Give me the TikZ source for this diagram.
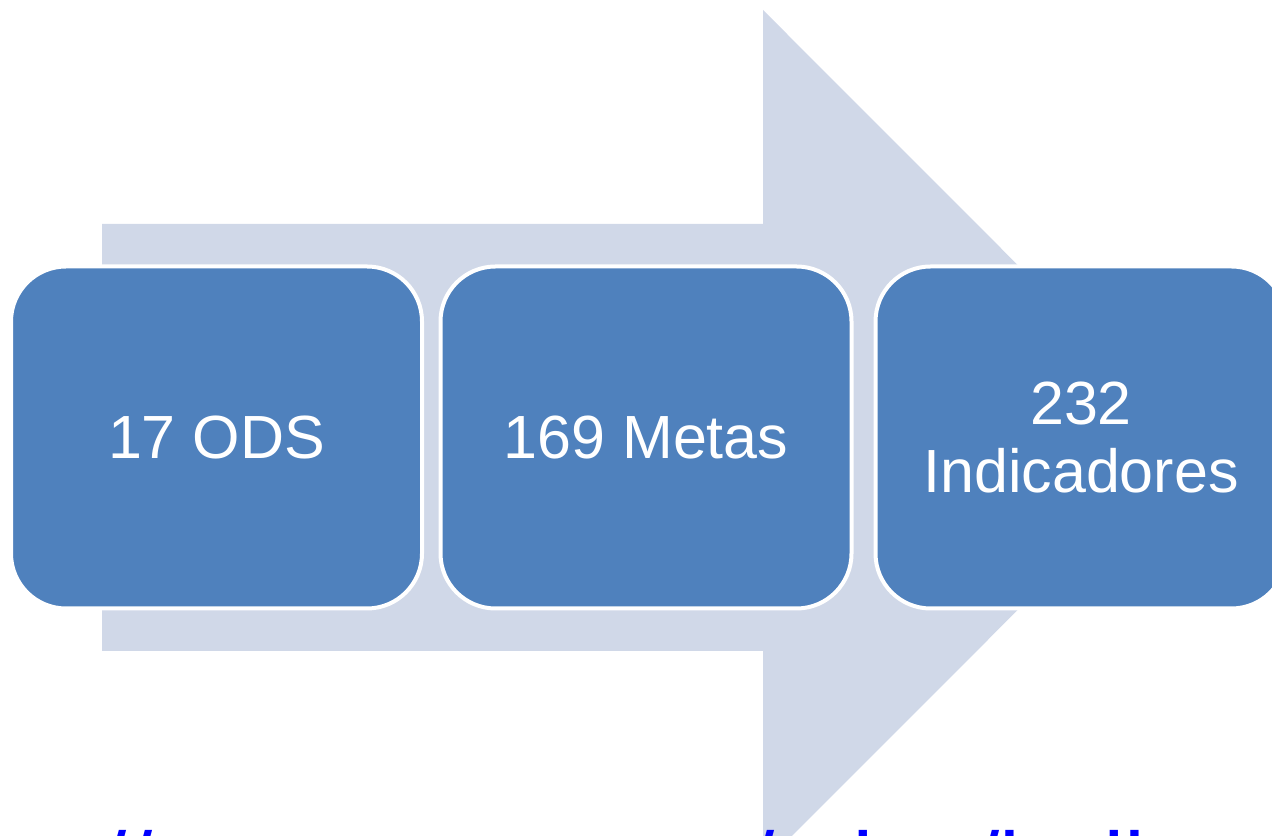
\documentclass[tikz,border=0pt]{standalone}
\usepackage{fontspec}
\setmainfont{Liberation Sans}
\usepackage{tikz}
\pgfdeclarelayer{edgelayer}
\pgfdeclarelayer{nodelayer}
\pgfsetlayers{edgelayer,nodelayer,main}
\definecolor{boxblue}{RGB}{79,129,189}
\definecolor{arrowgrey}{RGB}{208,216,232}
\definecolor{linkblue}{RGB}{0,0,255}
\tikzstyle{none}=[inner sep=0pt]
\tikzstyle{stepbox}=[rectangle, rounded corners=1.1cm, fill=boxblue, draw=white, line width=0.08cm, minimum width=8.22cm, minimum height=6.84cm, text=white, align=center, font=\fontsize{34.7}{38.2}\selectfont]

\begin{document}
\begin{tikzpicture}
	\useasboundingbox (0,0) rectangle (25.44,16.72);
	\clip (0,0) rectangle (25.44,16.72);
	\node [style=none, anchor=base west, text=linkblue, font=\fontsize{53.5}{60}\selectfont] (0) at (-2.6,-1.24) {https://unstats.un.org/sdgs/indicators/indicators-list/};
	\begin{pgfonlayer}{edgelayer}
		\fill [arrowgrey] (2.04,12.24) -- (15.26,12.24) -- (15.26,16.52) -- (23.8,7.97) -- (15.26,-0.58) -- (15.26,3.70) -- (2.04,3.70) -- cycle;
	\end{pgfonlayer}
	\begin{pgfonlayer}{nodelayer}
		\node [style=stepbox] (1) at (4.33,7.97) {17 ODS};
		\node [style=stepbox] (2) at (12.92,7.97) {169 Metas};
		\node [style=stepbox] (3) at (21.62,7.97) {232\\Indicadores};
	\end{pgfonlayer}
\end{tikzpicture}
\end{document}
